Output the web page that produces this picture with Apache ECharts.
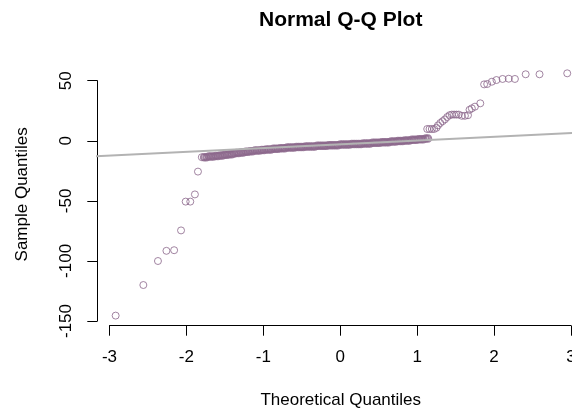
<!DOCTYPE html>
<html>
<head>
<meta charset="utf-8">
<script src="https://cdn.jsdelivr.net/npm/echarts@6/dist/echarts.min.js"></script>
<style>
html,body{margin:0;padding:0;background:#fff;}
#chart{width:572px;height:415px;}
</style>
</head>
<body>
<div id="chart"></div>
<script>
// ---- data ----
var titleText = 'Normal Q-Q Plot';
var xTitle = 'Theoretical Quantiles';
var yTitle = 'Sample Quantiles';
var xTicks = [-3, -2, -1, 0, 1, 2, 3];
var yTicks = [-150, -100, -50, 0, 50];

// lower tail [theoretical, sample]
var lowerTail = [
  [-2.92, -145.5], [-2.56, -120], [-2.37, -100], [-2.26, -91.5], [-2.16, -91],
  [-2.07, -74.5], [-2.01, -50.5], [-1.95, -50.5], [-1.89, -44.5], [-1.85, -25.5],
  [-1.80, -13.5]
];
// central dense band
var bandX = [-1.77,-1.74,-1.71,-1.68,-1.65,-1.62,-1.59,-1.56,-1.53,-1.50,-1.47,-1.44,-1.41,-1.38,-1.35,-1.32,-1.29,-1.26,-1.23,-1.20,
  -1.17,-1.14,-1.11,-1.08,-1.05,-1.02,-0.99,-0.96,-0.93,-0.90,-0.87,-0.84,-0.81,-0.78,-0.75,-0.72,-0.69,-0.66,-0.63,-0.60,
  -0.57,-0.54,-0.51,-0.48,-0.45,-0.42,-0.39,-0.36,-0.33,-0.30,-0.27,-0.24,-0.21,-0.18,-0.15,-0.12,-0.09,-0.06,-0.03,0.00,
  0.03,0.06,0.09,0.12,0.15,0.18,0.21,0.24,0.27,0.30,0.33,0.36,0.39,0.42,0.45,0.48,0.51,0.54,0.57,0.60,
  0.63,0.66,0.69,0.72,0.75,0.78,0.81,0.84,0.87,0.90,0.93,0.96,0.99,1.02,1.05,1.08,1.11,1.14];
var bandY = [-13.5,-13.5,-13,-13,-13,-12.5,-12.5,-12,-12,-11.5,-11.5,-11,-11,-10.5,-10,-10,-9.5,-9.5,-9,-9,
  -8.5,-8.5,-8,-8,-8,-7.5,-7.5,-7,-7,-7,-6.5,-6.5,-6.5,-6,-6,-6,-5.5,-5.5,-5.5,-5.5,
  -5,-5,-5,-5,-4.5,-4.5,-4.5,-4.5,-4.5,-4,-4,-4,-4,-4,-3.5,-3.5,-3.5,-3.5,-3.5,-3,
  -3,-3,-3,-3,-2.5,-2.5,-2.5,-2.5,-2.5,-2,-2,-2,-2,-1.5,-1.5,-1.5,-1.5,-1,-1,-1,
  -1,-0.5,-0.5,-0.5,0,0,0,0.5,0.5,0.5,1,1,1,1.5,1.5,1.5,2,2];
// upper tail
var upperTail = [
  [1.13, 10], [1.16, 10], [1.19, 10], [1.22, 10], [1.25, 11], [1.27, 13], [1.30, 15],
  [1.33, 16.5], [1.36, 18], [1.39, 20], [1.42, 21.5], [1.45, 22], [1.48, 22], [1.51, 22],
  [1.54, 22], [1.58, 21], [1.62, 21], [1.66, 21.5], [1.68, 26], [1.71, 27.2], [1.75, 28.6],
  [1.82, 31.4], [1.87, 47.2], [1.91, 47.5], [1.97, 49.4], [2.03, 50.8], [2.11, 51.7],
  [2.19, 51.9], [2.27, 51.7], [2.41, 55.6], [2.59, 55.6], [2.95, 56.4]
];
// reference line (qqline) end points
var qqLine = [[-3.3, -13.0], [3.3, 7.5]];

// ---- build ----
var bandPoints = bandX.map(function (x, i) { return [x, bandY[i]]; });
var tailPoints = lowerTail.concat(upperTail);

var font = 'Liberation Sans, Arial, Helvetica, sans-serif';
var pointColor = '#8B668B';

var chart = echarts.init(document.getElementById('chart'), null, {renderer: 'canvas'});
chart.setOption({
  animation: false,
  backgroundColor: '#ffffff',
  title: {
    text: titleText,
    left: 340.7,
    top: 10,
    padding: 0,
    textAlign: 'center',
    textStyle: {fontFamily: font, fontSize: 21, fontWeight: 'bold', color: '#000'}
  },
  grid: [
    {left: 97.3, top: 63, width: 486.8, height: 262.7, containLabel: false, outerBoundsMode: 'none'},
    {left: 109.5, top: 80.7, width: 461.5, height: 240.3, containLabel: false, outerBoundsMode: 'none'}
  ],
  xAxis: [
    {
      gridIndex: 0, type: 'value', min: -3.1586, max: 3.1694,
      axisLine: {show: false}, axisTick: {show: false}, axisLabel: {show: false}, splitLine: {show: false},
      name: xTitle, nameLocation: 'middle', nameGap: 66,
      nameTextStyle: {fontFamily: font, fontSize: 17, color: '#000'}
    },
    {
      gridIndex: 1, type: 'value', min: -3, max: 3, interval: 1, offset: 4.7,
      axisLine: {show: true, onZero: false, lineStyle: {color: '#000', width: 1}},
      axisTick: {show: true, length: 10, lineStyle: {color: '#000', width: 1}},
      axisLabel: {show: true, margin: 23, fontFamily: font, fontSize: 17, color: '#000',
        formatter: function (v) { return xTicks.indexOf(v) >= 0 ? String(v) : ''; }},
      splitLine: {show: false}
    }
  ],
  yAxis: [
    {
      gridIndex: 0, type: 'value', min: -153.9, max: 65,
      axisLine: {show: false}, axisTick: {show: false}, axisLabel: {show: false}, splitLine: {show: false},
      name: yTitle, nameLocation: 'middle', nameGap: 66,
      nameTextStyle: {fontFamily: font, fontSize: 17, color: '#000'}
    },
    {
      gridIndex: 1, type: 'value', min: -150, max: 50, interval: 50, offset: 12.2,
      axisLine: {show: true, onZero: false, lineStyle: {color: '#000', width: 1}},
      axisTick: {show: true, length: 10, lineStyle: {color: '#000', width: 1}},
      axisLabel: {show: true, margin: 22, rotate: 90, fontFamily: font, fontSize: 17, color: '#000',
        formatter: function (v) { return yTicks.indexOf(v) >= 0 ? String(v) : ''; }},
      splitLine: {show: false}
    }
  ],
  series: [
    {
      type: 'scatter', xAxisIndex: 0, yAxisIndex: 0,
      data: bandPoints, symbol: 'circle', symbolSize: 6.5,
      itemStyle: {color: 'rgba(0,0,0,0)', borderColor: pointColor, borderWidth: 2},
      emphasis: {disabled: true}, z: 2
    },
    {
      type: 'scatter', xAxisIndex: 0, yAxisIndex: 0,
      data: tailPoints, symbol: 'circle', symbolSize: 7,
      itemStyle: {color: 'rgba(0,0,0,0)', borderColor: pointColor, borderWidth: 1},
      emphasis: {disabled: true}, z: 2
    },
    {
      type: 'line', xAxisIndex: 0, yAxisIndex: 0,
      data: qqLine, symbol: 'none', clip: true,
      lineStyle: {color: '#B3B3B3', width: 2}, z: 3, silent: true
    }
  ]
});
</script>
</body>
</html>
